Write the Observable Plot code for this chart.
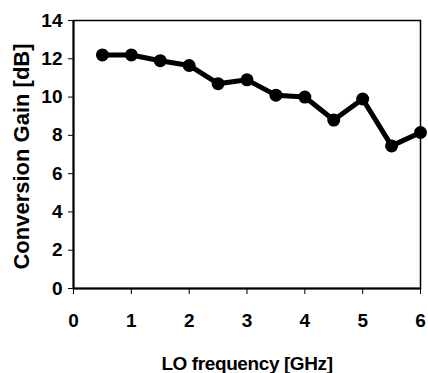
<!DOCTYPE html>
<html>
<head>
<meta charset="utf-8">
<script src="https://cdn.jsdelivr.net/npm/d3@7"></script>
<script src="https://cdn.jsdelivr.net/npm/@observablehq/plot@0.6"></script>
<style>
  html, body { margin: 0; padding: 0; background: #fff; }
  svg { display: block; }
</style>
</head>
<body>
<div id="chart"></div>
<script>
const freq = [0.5, 1, 1.5, 2, 2.5, 3, 3.5, 4, 4.5, 5, 5.5, 6];
const gain = [12.2, 12.2, 11.9, 11.65, 10.7, 10.9, 10.1, 10.0, 8.8, 9.9, 7.45, 8.15];
const xTicks = [0, 1, 2, 3, 4, 5, 6];
const yTicks = [0, 2, 4, 6, 8, 10, 12, 14];
const xLabel = "LO frequency [GHz]";
const yLabel = "Conversion Gain [dB]";

const data = freq.map((f, i) => ({f, g: gain[i]}));

const chart = Plot.plot({
  width: 428,
  height: 373,
  marginLeft: 73,
  marginRight: 8,
  marginTop: 20,
  marginBottom: 85,
  style: {fontFamily: "Liberation Sans, Arial, sans-serif", fontWeight: "bold", background: "#fff", color: "#000"},
  x: {domain: [0, 6]},
  y: {domain: [0, 14]},
  marks: [
    Plot.frame({stroke: "#000", strokeWidth: 1.5}),
    Plot.axisX({ticks: xTicks, tickSize: 6, tickPadding: 19, fontSize: 19, tickFormat: d => d, label: null}),
    Plot.axisY({ticks: yTicks, tickSize: 5, tickPadding: 6, fontSize: 19, tickFormat: d => d, label: null}),
    Plot.text([xLabel], {text: d => d, frameAnchor: "bottom", textAnchor: "middle", lineAnchor: "middle", dy: 75, fontSize: 19, fontWeight: "bold", fill: "#000"}),
    Plot.text([yLabel], {text: d => d, frameAnchor: "left", textAnchor: "middle", lineAnchor: "middle", rotate: -90, dx: -52, dy: 2, fontSize: 22, fontWeight: "bold", fill: "#000"}),
    Plot.ruleX([0], {stroke: "#000", strokeWidth: 2}),
    Plot.ruleY([0], {stroke: "#000", strokeWidth: 2}),
    Plot.line(data, {x: "f", y: "g", stroke: "#000", strokeWidth: 5, strokeLinejoin: "round"}),
    Plot.dot(data, {x: "f", y: "g", r: 6.5, fill: "#000", stroke: "none"})
  ]
});
d3.select(chart).selectAll("text").filter(function() { return this.textContent === xLabel; }).style("letter-spacing", "-0.4px");
document.getElementById("chart").appendChild(chart);
</script>
</body>
</html>
